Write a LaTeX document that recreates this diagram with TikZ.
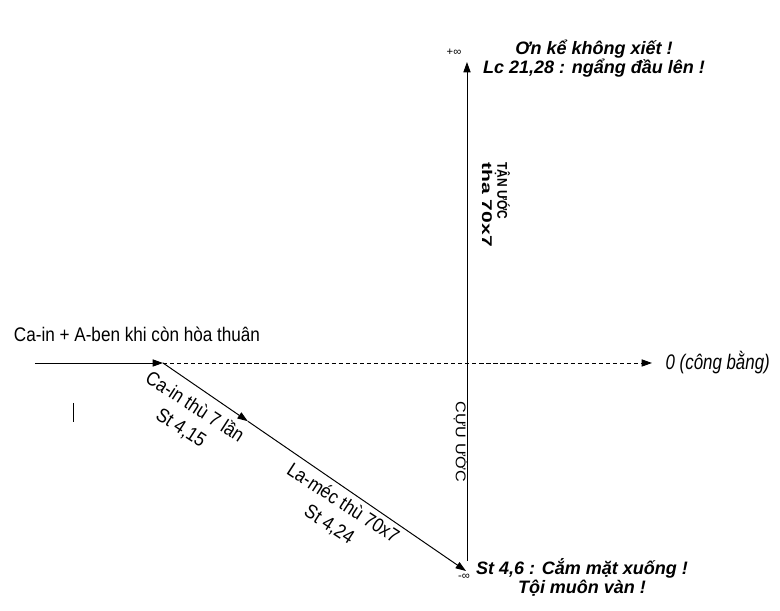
\documentclass[tikz,border=0pt]{standalone}
\usepackage{fontspec}
\setmainfont{Liberation Sans}
\usepackage{graphicx}
\usetikzlibrary{arrows.meta, positioning, calc}
\newcommand{\narrow}[2][0.88]{\scalebox{#1}[1]{#2}}

\begin{document}
\begin{tikzpicture}[
    line/.style={line width=0.7pt},
    arrow/.style={line width=0.7pt, -{Triangle[length=2.6mm, width=1.8mm]}},
    verse/.style={font=\fontsize{12.8}{13.4}\selectfont\bfseries\itshape, align=center, inner sep=1pt},
    tag/.style={font=\fontsize{14}{16}\selectfont, inner sep=1pt},
    slant/.style={font=\fontsize{14}{18}\selectfont, align=center, rotate=-33, inner sep=1pt},
    inf/.style={font=\fontsize{8}{9}\selectfont, inner sep=0pt}
]
\useasboundingbox (-11.65,-6.2) rectangle (7.85,9.075);

% Axes
\coordinate (O) at (0,0);
\coordinate (start) at (-10.775,0);
\coordinate (meet) at (-7.575,0);
\coordinate (zero) at (4.65,0);
\coordinate (top) at (0.025,7.525);
\coordinate (bot) at (0.025,-4.95);
\coordinate (low) at (0,-5.2);
\coordinate (mid) at ($(meet)!0.28!(low)$);

\draw[arrow] (start) -- (meet);
\draw[arrow, dash pattern=on 3pt off 2pt] (meet) -- (zero);
\draw[arrow] (bot) -- (top);

% Fall
\draw[arrow] (meet) -- (mid);
\draw[arrow] (mid) -- (low);
\node[slant] (cain) at (-6.95,-1.36) {\narrow{Ca-in thù 7 lần}\\\narrow{St 4,15}};
\node[slant] (lamech) at (-3.25,-3.78) {\narrow{La-méc thù 70x7}\\\narrow{St 4,24}};

% Labels
\node[tag] (peace) at (-8.225,0.725) {\narrow[0.87]{Ca-in + A-ben khi còn hòa thuân}};
\node[tag, font=\fontsize{15}{17}\selectfont\itshape, right=0.3cm of zero] (balance) {\narrow[0.8]{0 (công bằng)}};
\node[inf] (pinf) at (-0.3,7.775) {+∞};
\node[inf] (minf) at (-0.05,-5.35) {-∞};
\node[verse] (praise) at (3.2,7.6) {Ơn kể không xiết !\\Lc 21,28 : ngẩng đầu lên !};
\node[verse] (shame) at (2.9,-5.35) {St 4,6 : Cắm mặt xuống !\\Tội muôn vàn !};
\node[font=\fontsize{10}{11}\selectfont\bfseries, align=left, rotate=-90, inner sep=1pt] (newcov) at (0.75,3.96)
    {\narrow[0.85]{TẬN ƯỚC}\\\scalebox{1.5}[1]{tha 70x7}};
\node[font=\fontsize{10}{11}\selectfont, rotate=-90, inner sep=1pt] (oldcov) at (-0.125,-1.975) {\narrow[1.15]{CỰU ƯỚC}};

% Mark
\draw[line] (-9.825,-1.0) -- (-9.825,-1.475);

\end{tikzpicture}
\end{document}
